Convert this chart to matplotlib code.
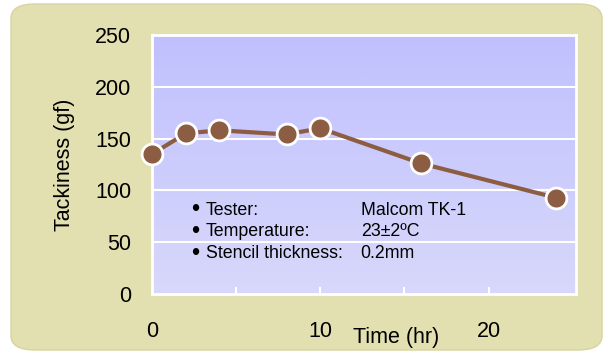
import numpy as np
import matplotlib
matplotlib.use("Agg")
import matplotlib.pyplot as plt
from matplotlib.patches import FancyBboxPatch

plt.rcParams['font.family'] = ['Liberation Sans', 'DejaVu Sans']

# data
time_hr = [0, 2, 4, 8, 10, 16, 24]
tackiness = [135, 155, 158, 154, 160, 126, 93]
x_labels = [0, 10, 20]
y_ticks = [0, 50, 100, 150, 200, 250]
notes_left = ["Tester:", "Temperature:", "Stencil thickness:"]
notes_right = ["Malcom TK-1", "23\u00b12\u00baC", "0.2mm"]

fig = plt.figure(figsize=(6.06, 3.54), dpi=100)
fig.patch.set_facecolor("white")

# khaki rounded panel behind everything
panel = FancyBboxPatch((11/606, 4/354), 591/606, 346/354,
                       boxstyle="round,pad=0,rounding_size=0.04",
                       transform=fig.transFigure, facecolor="#E2DFB0",
                       edgecolor="#D8D4A0", linewidth=1, zorder=-10)
fig.patches.append(panel)

ax = fig.add_axes([152/606, 1 - 294/354, (576-152)/606, (294-35)/354])
ax.set_xlim(0, 25.2)
ax.set_ylim(0, 250)

# gradient background of plot area
grad = np.linspace(0, 1, 256).reshape(-1, 1)
top = np.array([0xC0, 0xC0, 0xFF]) / 255
bot = np.array([0xD8, 0xD8, 0xFB]) / 255
img = top + (bot - top) * grad[:, :, None]
ax.imshow(img, extent=[0, 1, 0, 1], transform=ax.transAxes, aspect="auto", zorder=0)

for y in y_ticks[1:-1]:
    ax.axhline(y, color="white", lw=1.5, zorder=1)

for s in ax.spines.values():
    s.set_color("white")
    s.set_linewidth(2)

ax.plot(time_hr, tackiness, color="#8C5D42", lw=3, marker="o", ms=15,
        markerfacecolor="#8C5D42", markeredgecolor="white", markeredgewidth=2,
        zorder=3, clip_on=False)

ax.set_xticks([5, 10, 15, 20])
ax.set_xticklabels([])
ax.tick_params(axis="x", direction="in", color="white", length=5, width=1.5)
ax.set_yticks(y_ticks)
ax.set_yticklabels([str(v) for v in y_ticks], fontsize=15.5)
ax.tick_params(axis="y", length=0, pad=15)

for v in x_labels:
    ax.text(v, -36, str(v), ha="center", va="center", fontsize=15.5, transform=ax.transData)
ax.text(14.5, -42, "Time (hr)", ha="center", va="center", fontsize=15.5)
ax.set_ylabel("Tackiness (gf)", fontsize=15.5, labelpad=14)

for i, (a, b) in enumerate(zip(notes_left, notes_right)):
    yy = 81 - i * 21
    ax.text(2.55, yy, "\u2022", ha="center", va="center", fontsize=17)
    ax.text(3.2, yy, a, ha="left", va="center", fontsize=12.8)
    ax.text(12.4, yy, b, ha="left", va="center", fontsize=12.8)

fig.savefig("out.png", dpi=100)
